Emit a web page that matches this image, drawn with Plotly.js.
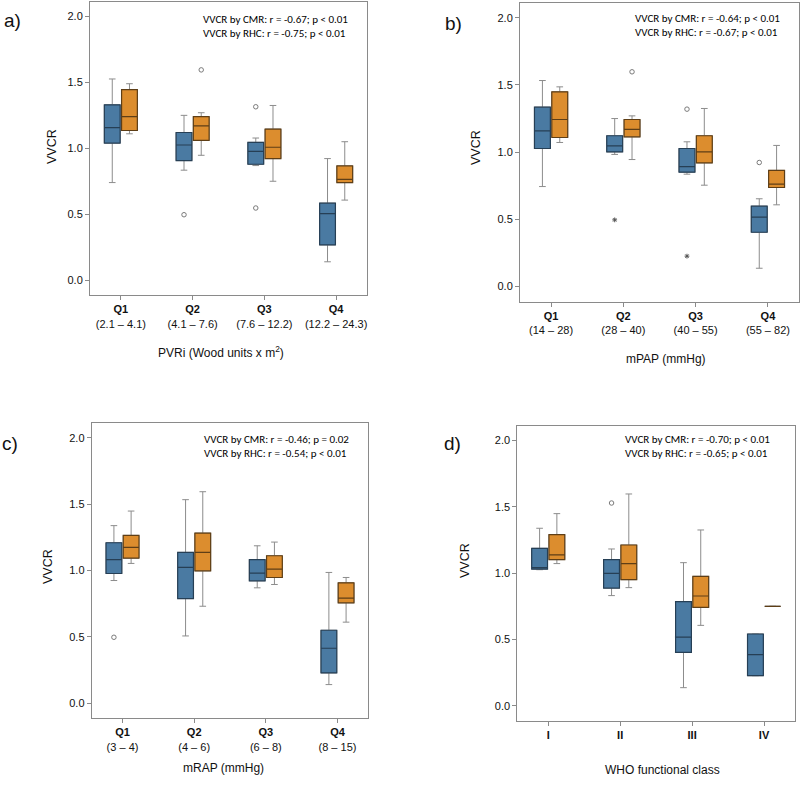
<!DOCTYPE html>
<html>
<head>
<meta charset="utf-8">
<script src="https://cdn.plot.ly/plotly-3.0.1.min.js"></script>
<style>html,body{margin:0;padding:0;background:#fff;}#chart{width:800px;height:792px;}</style>
</head>
<body>
<div id="chart"></div>
<script>
// ---------- tick labels ----------
const ticksA = ['<b>Q1</b><br>(2.1 – 4.1)', '<b>Q2</b><br>(4.1 – 7.6)', '<b>Q3</b><br>(7.6 – 12.2)', '<b>Q4</b><br>(12.2 – 24.3)'];
const ticksB = ['<b>Q1</b><br>(14 – 28)', '<b>Q2</b><br>(28 – 40)', '<b>Q3</b><br>(40 – 55)', '<b>Q4</b><br>(55 – 82)'];
const ticksC = ['<b>Q1</b><br>(3 – 4)', '<b>Q2</b><br>(4 – 6)', '<b>Q3</b><br>(6 – 8)', '<b>Q4</b><br>(8 – 15)'];
const ticksD = ['<b>I</b>', '<b>II</b>', '<b>III</b>', '<b>IV</b>'];
const yTicks = [0, 0.5, 1, 1.5, 2];

// ---------- panel a: PVRi ----------
const a_cmr_lower  = [0.74, 0.834, 0.869, 0.139];
const a_cmr_q1     = [1.04, 0.907, 0.879, 0.267];
const a_cmr_median = [1.157, 1.025, 0.977, 0.504];
const a_cmr_q3     = [1.33, 1.12, 1.045, 0.584];
const a_cmr_upper  = [1.526, 1.25, 1.078, 0.922];
const a_rhc_lower  = [1.11, 0.947, 0.75, 0.607];
const a_rhc_q1     = [1.135, 1.06, 0.922, 0.74];
const a_rhc_median = [1.24, 1.17, 1.008, 0.765];
const a_rhc_q3     = [1.445, 1.24, 1.146, 0.866];
const a_rhc_upper  = [1.49, 1.27, 1.325, 1.05];
const a_cmr_out_cat = [1, 2, 2];
const a_cmr_out_val = [0.496, 1.315, 0.547];
const a_rhc_out_cat = [1];
const a_rhc_out_val = [1.595];
const a_cmr_ext_cat = [];
const a_cmr_ext_val = [];

// ---------- panel b: mPAP ----------
const b_cmr_lower  = [0.744, 0.983, 0.836, 0.136];
const b_cmr_q1     = [1.027, 1.002, 0.851, 0.404];
const b_cmr_median = [1.159, 1.047, 0.893, 0.516];
const b_cmr_q3     = [1.335, 1.122, 1.027, 0.598];
const b_cmr_upper  = [1.533, 1.25, 1.077, 0.653];
const b_rhc_lower  = [1.072, 0.945, 0.754, 0.608];
const b_rhc_q1     = [1.109, 1.114, 0.92, 0.737];
const b_rhc_median = [1.243, 1.169, 1.002, 0.762];
const b_rhc_q3     = [1.449, 1.243, 1.122, 0.864];
const b_rhc_upper  = [1.486, 1.27, 1.325, 1.05];
const b_cmr_out_cat = [2, 3];
const b_cmr_out_val = [1.32, 0.923];
const b_rhc_out_cat = [1];
const b_rhc_out_val = [1.598];
const b_cmr_ext_cat = [1, 2];
const b_cmr_ext_val = [0.496, 0.226];

// ---------- panel c: mRAP ----------
const c_cmr_lower  = [0.924, 0.506, 0.869, 0.139];
const c_cmr_q1     = [0.977, 0.788, 0.922, 0.227];
const c_cmr_median = [1.081, 1.023, 0.98, 0.413];
const c_cmr_q3     = [1.209, 1.136, 1.081, 0.549];
const c_cmr_upper  = [1.338, 1.534, 1.186, 0.985];
const c_rhc_lower  = [1.053, 0.73, 0.894, 0.61];
const c_rhc_q1     = [1.093, 0.997, 0.947, 0.756];
const c_rhc_median = [1.174, 1.136, 1.01, 0.791];
const c_rhc_q3     = [1.264, 1.282, 1.111, 0.907];
const c_rhc_upper  = [1.448, 1.594, 1.214, 0.947];
const c_cmr_out_cat = [0];
const c_cmr_out_val = [0.496];
const c_rhc_out_cat = [];
const c_rhc_out_val = [];
const c_cmr_ext_cat = [];
const c_cmr_ext_val = [];

// ---------- panel d: WHO functional class ----------
const d_cmr_lower  = [1.026, 0.831, 0.138, 0.228];
const d_cmr_q1     = [1.031, 0.888, 0.404, 0.228];
const d_cmr_median = [1.041, 0.999, 0.519, 0.386];
const d_cmr_q3     = [1.187, 1.102, 0.785, 0.542];
const d_cmr_upper  = [1.338, 1.182, 1.079, 0.542];
const d_rhc_lower  = [1.072, 0.891, 0.607, 0.75];
const d_rhc_q1     = [1.102, 0.951, 0.743, 0.75];
const d_rhc_median = [1.137, 1.072, 0.828, 0.75];
const d_rhc_q3     = [1.29, 1.212, 0.976, 0.75];
const d_rhc_upper  = [1.448, 1.596, 1.325, 0.75];
const d_cmr_out_cat = [1];
const d_cmr_out_val = [1.528];
const d_rhc_out_cat = [];
const d_rhc_out_val = [];
const d_cmr_ext_cat = [];
const d_cmr_ext_val = [];

const statsA = ['VVCR by CMR: r = -0.67; p < 0.01', 'VVCR by RHC: r = -0.75; p < 0.01'];
const statsB = ['VVCR by CMR: r = -0.64; p < 0.01', 'VVCR by RHC: r = -0.67; p < 0.01'];
const statsC = ['VVCR by CMR: r = -0.46; p = 0.02', 'VVCR by RHC: r = -0.54; p < 0.01'];
const statsD = ['VVCR by CMR: r = -0.70; p < 0.01', 'VVCR by RHC: r = -0.65; p < 0.01'];
const xTitles = ['PVRi (Wood units x m<sup>2</sup>)', 'mPAP (mmHg)', 'mRAP (mmHg)', 'WHO functional class'];
const yTitle = 'VVCR';
const letters = ['a)', 'b)', 'c)', 'd)'];

// ---------- styling / layout geometry ----------
const W = 800, H = 792;
const px = v => v / W;
const py = v => 1 - v / H;
const OFF = 0.12, BW = 0.22;
const COL = {
  cmr: {fill: '#4a7aa2', line: '#263f55'},
  rhc: {fill: '#dc8d2e', line: '#5e3e16'}
};
const WHISK = '#8c8c8c';

const panels = [
  {id: '', ticks: ticksA, s: 'a', stats: statsA, dom: {x: [90, 367], y: [2, 295]},
   letter: [2, 20], ytitle: [52, 147], xtitle: [221, 352], statpos: [201, 26]},
  {id: '2', ticks: ticksB, s: 'b', stats: statsB, dom: {x: [520, 799], y: [3, 301.7]},
   letter: [443, 24], ytitle: [476, 148], xtitle: [666, 359], statpos: [633, 25.5]},
  {id: '3', ticks: ticksC, s: 'c', stats: statsC, dom: {x: [91.7, 368.3], y: [423.3, 718]},
   letter: [0, 443], ytitle: [48, 567], xtitle: [223, 768], statpos: [201.7, 446.7]},
  {id: '4', ticks: ticksD, s: 'd', stats: statsD, dom: {x: [517.3, 795], y: [425.7, 721]},
   letter: [442, 443], ytitle: [465, 561], xtitle: [662, 770], statpos: [623.3, 446.4]}
];

const src = {
  a: {cmr: [a_cmr_lower, a_cmr_q1, a_cmr_median, a_cmr_q3, a_cmr_upper], rhc: [a_rhc_lower, a_rhc_q1, a_rhc_median, a_rhc_q3, a_rhc_upper],
      out: {cmr: [a_cmr_out_cat, a_cmr_out_val], rhc: [a_rhc_out_cat, a_rhc_out_val]}, ext: [a_cmr_ext_cat, a_cmr_ext_val]},
  b: {cmr: [b_cmr_lower, b_cmr_q1, b_cmr_median, b_cmr_q3, b_cmr_upper], rhc: [b_rhc_lower, b_rhc_q1, b_rhc_median, b_rhc_q3, b_rhc_upper],
      out: {cmr: [b_cmr_out_cat, b_cmr_out_val], rhc: [b_rhc_out_cat, b_rhc_out_val]}, ext: [b_cmr_ext_cat, b_cmr_ext_val]},
  c: {cmr: [c_cmr_lower, c_cmr_q1, c_cmr_median, c_cmr_q3, c_cmr_upper], rhc: [c_rhc_lower, c_rhc_q1, c_rhc_median, c_rhc_q3, c_rhc_upper],
      out: {cmr: [c_cmr_out_cat, c_cmr_out_val], rhc: [c_rhc_out_cat, c_rhc_out_val]}, ext: [c_cmr_ext_cat, c_cmr_ext_val]},
  d: {cmr: [d_cmr_lower, d_cmr_q1, d_cmr_median, d_cmr_q3, d_cmr_upper], rhc: [d_rhc_lower, d_rhc_q1, d_rhc_median, d_rhc_q3, d_rhc_upper],
      out: {cmr: [d_cmr_out_cat, d_cmr_out_val], rhc: [d_rhc_out_cat, d_rhc_out_val]}, ext: [d_cmr_ext_cat, d_cmr_ext_val]}
};

const traces = [];
const layout = {
  width: W, height: H, margin: {l: 0, r: 0, t: 0, b: 0},
  paper_bgcolor: '#fff', plot_bgcolor: '#fff', showlegend: false,
  font: {family: 'Liberation Sans, Arial, sans-serif', color: '#222'},
  annotations: []
};

const statFont = {family: 'Liberation Sans Narrow, Carlito, Liberation Sans, Arial, sans-serif', size: 11, color: '#000'};

panels.forEach(p => {
  const xa = 'x' + p.id, ya = 'y' + p.id;
  const d = src[p.s];
  const idx = p.ticks.map((_, i) => i);
  ['cmr', 'rhc'].forEach(m => {
    const [lo, q1, med, q3, hi] = d[m];
    const off = m === 'cmr' ? -OFF : OFF;
    const xs = idx.map(i => i + off);
    // whiskers (grey)
    traces.push({type: 'box', xaxis: xa, yaxis: ya, x: xs, q1: q1, median: med, q3: q3,
      lowerfence: lo, upperfence: hi, width: BW, whiskerwidth: 0.42, boxpoints: false,
      fillcolor: 'rgba(0,0,0,0)', line: {color: WHISK, width: 1}, hoverinfo: 'skip'});
    // box body (coloured)
    traces.push({type: 'box', xaxis: xa, yaxis: ya, x: xs, q1: q1, median: med, q3: q3,
      lowerfence: q1, upperfence: q3, width: BW, whiskerwidth: 0, boxpoints: false,
      fillcolor: COL[m].fill, line: {color: COL[m].line, width: 1.2}, hoverinfo: 'skip'});
    const [oc, ov] = d.out[m];
    if (oc.length) traces.push({type: 'scatter', mode: 'markers', xaxis: xa, yaxis: ya,
      x: oc.map(i => i + off), y: ov, hoverinfo: 'skip',
      marker: {symbol: 'circle-open', size: 4.5, color: '#7a7a7a', line: {width: 1}}});
  });
  const [ec, ev] = d.ext;
  if (ec.length) traces.push({type: 'scatter', mode: 'markers', xaxis: xa, yaxis: ya,
    x: ec.map(i => i - OFF), y: ev, hoverinfo: 'skip',
    marker: {symbol: 'asterisk-open', size: 4, color: '#555', line: {width: 1, color: '#555'}}});

  const axCommon = {showline: true, mirror: true, linecolor: '#8a8a8a', linewidth: 1,
    ticks: 'outside', ticklen: 4, tickcolor: '#8a8a8a', showgrid: false, zeroline: false};
  layout['xaxis' + p.id] = Object.assign({}, axCommon, {
    domain: [px(p.dom.x[0]), px(p.dom.x[1])], anchor: ya, range: [-0.43, 3.43],
    tickmode: 'array', tickvals: idx, ticktext: p.ticks,
    tickfont: {family: 'Liberation Sans, Arial, sans-serif', size: 11, color: '#111'}});
  layout['yaxis' + p.id] = Object.assign({}, axCommon, {
    domain: [py(p.dom.y[1]), py(p.dom.y[0])], anchor: xa, range: [-0.113, 2.11],
    tickmode: 'array', tickvals: yTicks, tickformat: '.1f',
    tickfont: {family: 'Liberation Sans, Arial, sans-serif', size: 11, color: '#111'}});

  const i = panels.indexOf(p);
  layout.annotations.push(
    {xref: 'paper', yref: 'paper', x: px(p.letter[0]), y: py(p.letter[1]), xanchor: 'left', yanchor: 'middle',
     text: letters[i], showarrow: false, font: {family: 'Liberation Sans, Arial, sans-serif', size: 19, color: '#111'}},
    {xref: 'paper', yref: 'paper', x: px(p.ytitle[0]), y: py(p.ytitle[1]), xanchor: 'center', yanchor: 'middle',
     text: yTitle, textangle: -90, showarrow: false, font: {family: 'Liberation Sans, Arial, sans-serif', size: 12.5, color: '#111'}},
    {xref: 'paper', yref: 'paper', x: px(p.xtitle[0]), y: py(p.xtitle[1]), xanchor: 'center', yanchor: 'middle',
     text: xTitles[i], showarrow: false, font: {family: 'Liberation Sans, Arial, sans-serif', size: 12, color: '#111'}},
    {xref: 'paper', yref: 'paper', x: px(p.statpos[0]), y: py(p.statpos[1]), xanchor: 'left', yanchor: 'middle',
     align: 'left', text: p.stats.join('<br>'), showarrow: false, font: statFont}
  );
});

Plotly.newPlot('chart', traces, layout, {displayModeBar: false, staticPlot: true});
</script>
</body>
</html>
